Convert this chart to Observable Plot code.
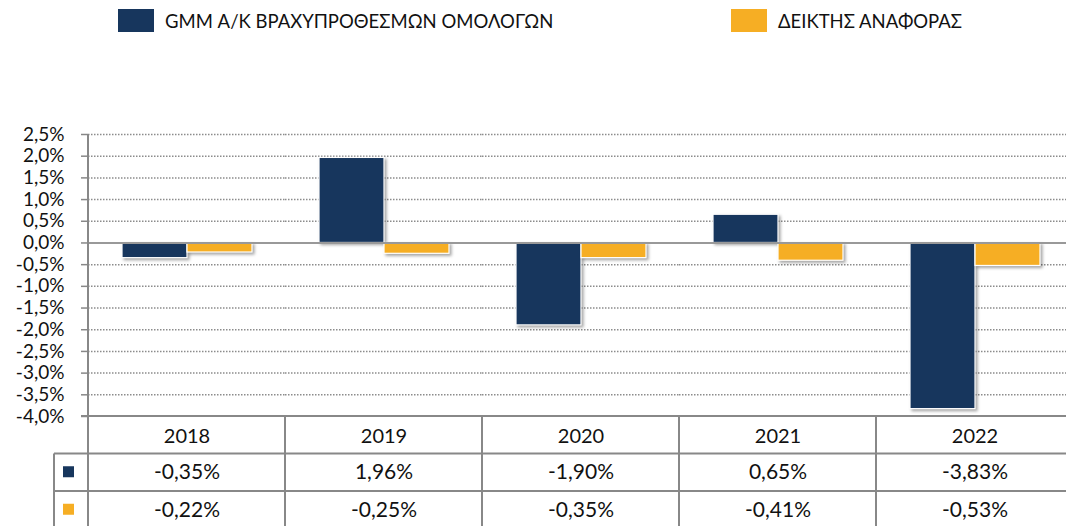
<!DOCTYPE html>
<html><head><meta charset="utf-8">
<script src="https://cdn.jsdelivr.net/npm/d3@7"></script>
<script src="https://cdn.jsdelivr.net/npm/@observablehq/plot@0.6"></script>
<style>
html,body{margin:0;padding:0;background:#fff;overflow:hidden;}
#wrap{position:relative;width:1066px;height:526px;overflow:hidden;font-family:Lato,"Open Sans",sans-serif;}
.leg{position:absolute;top:9px;display:flex;align-items:center;font-size:18.5px;color:#111;height:23px;white-space:nowrap;}
.sw{width:36px;height:23px;margin-right:11px;flex:none;}
#chart{position:absolute;left:0;top:0;width:1074px;}
#chart svg{max-width:none !important;width:1074px;height:526px;}
g[aria-label="bar"] rect{filter:drop-shadow(2px 2px 1.5px rgba(0,0,0,0.35));}
g[aria-label^="y-axis"] line, g[aria-label="y-axis tick"] path{stroke:#888;stroke-width:1.5;}
</style></head>
<body><div id="wrap"><div id="chart"></div></div>
<script>
const years = ["2018", "2019", "2020", "2021", "2022"];
const seriesNames = ["GMM Α/Κ ΒΡΑΧΥΠΡΟΘΕΣΜΩΝ ΟΜΟΛΟΓΩΝ", "ΔΕΙΚΤΗΣ ΑΝΑΦΟΡΑΣ"];
const fundValues = [-0.35, 1.96, -1.90, 0.65, -3.83];
const benchValues = [-0.22, -0.25, -0.35, -0.41, -0.53];
const seriesColors = ["#17365D", "#F6AE24"];
const yTicks = [-4, -3.5, -3, -2.5, -2, -1.5, -1, -0.5, 0, 0.5, 1, 1.5, 2, 2.5];

const rows = years.flatMap((yr, i) => [
  {year: yr, series: seriesNames[0], value: fundValues[i]},
  {year: yr, series: seriesNames[1], value: benchValues[i]}
]);

const fmtTick = d => d.toFixed(1).replace(".", ",") + "%";
const fmtVal = d => d.toFixed(2).replace(".", ",") + "%";

// legend
const wrap = document.getElementById("wrap");
const legendX = [118, 731];
seriesNames.forEach((s, i) => {
  const el = document.createElement("div");
  el.className = "leg";
  el.style.left = legendX[i] + "px";
  el.innerHTML = `<div class="sw" style="background:${seriesColors[i]}"></div><span>${s}</span>`;
  wrap.appendChild(el);
});

const plot = Plot.plot({
  width: 1074,
  height: 526,
  marginLeft: 87,
  marginRight: 0,
  marginTop: 134,
  marginBottom: 110,
  facetMarginTop: 0, facetMarginBottom: 0, facetMarginLeft: 0, facetMarginRight: 0,
  style: {fontFamily: "Lato", fontSize: "19px", color: "#111", background: "transparent", overflow: "visible"},
  facet: {data: rows, x: "year", marginTop: 0, marginBottom: 0, marginLeft: 0, marginRight: 0},
  fx: {domain: years, paddingInner: 0, paddingOuter: 0, axis: "bottom", label: null, tickSize: 0, tickPadding: 12},
  x: {domain: seriesNames, paddingInner: 0, paddingOuter: 0.5, axis: null},
  y: {domain: [-4, 2.5], ticks: yTicks, tickFormat: fmtTick, tickSize: 7, tickPadding: 17, label: null},
  color: {domain: seriesNames, range: seriesColors},
  marks: [
    Plot.ruleY(yTicks.filter(t => t !== 0 && t !== -4), {stroke: "#8c8c8c", strokeWidth: 1.5, strokeDasharray: "1.5 1.5"}),
    Plot.barY(rows, {x: "series", y: "value", fill: "series", stroke: "white", strokeWidth: 1.2}),
    Plot.ruleY([0], {stroke: "#999", strokeWidth: 2}),
    Plot.text(rows, {filter: d => d.series === seriesNames[0], frameAnchor: "bottom", lineAnchor: "middle", dy: 56, text: d => fmtVal(d.value), fill: "#111", fontSize: 21}),
    Plot.text(rows, {filter: d => d.series === seriesNames[1], frameAnchor: "bottom", lineAnchor: "middle", dy: 94, text: d => fmtVal(d.value), fill: "#111", fontSize: 21})
  ]
});
document.getElementById("chart").appendChild(plot);

// table grid lines derived from the plot's scales
const svg = d3.select(plot);
svg.selectAll('g[aria-label^="fx-axis"] text').attr("font-size", 20);
const fxS = plot.scale("fx");
const yS = plot.scale("y");
const step = fxS.step || fxS.bandwidth;
const yTop = yS.apply(2.5);
const yBot = yS.apply(-4);
const rowH = 37.5;
const x0 = fxS.apply(years[0]);
const xEnd = fxS.apply(years[years.length - 1]) + step;
const g = svg.append("g").attr("stroke", "#888").attr("stroke-width", 2);
g.append("line").attr("x1", x0).attr("x2", x0).attr("y1", yTop).attr("y2", 526);
years.slice(1).forEach(yr => {
  const xx = fxS.apply(yr);
  g.append("line").attr("x1", xx).attr("x2", xx).attr("y1", yBot).attr("y2", 526);
});
g.append("line").attr("x1", xEnd).attr("x2", xEnd).attr("y1", yBot).attr("y2", 526);
g.append("line").attr("x1", x0 - 7).attr("x2", xEnd).attr("y1", yBot).attr("y2", yBot);
const legLeft = x0 - 34;
[1, 2].forEach(k => {
  g.append("line").attr("x1", legLeft).attr("x2", xEnd).attr("y1", yBot + rowH * k).attr("y2", yBot + rowH * k);
});
g.append("line").attr("x1", legLeft).attr("x2", legLeft).attr("y1", yBot + rowH).attr("y2", 526);
seriesColors.forEach((c, i) => {
  const cy = yBot + rowH * (i + 1) + rowH / 2;
  svg.append("rect").attr("x", legLeft + 9).attr("y", cy - 6).attr("width", 11).attr("height", 11).attr("fill", c);
});
</script>
</body></html>
